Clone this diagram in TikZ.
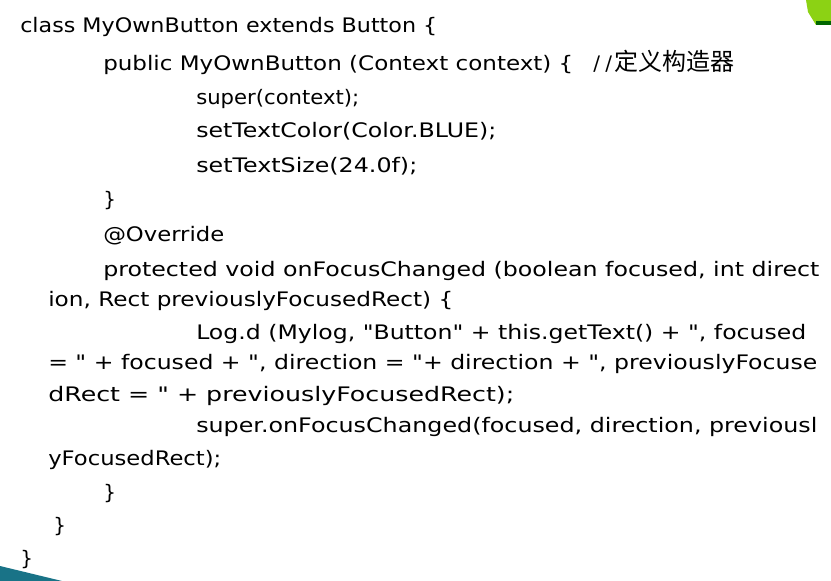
\documentclass[tikz,border=0pt]{standalone}
\usepackage{graphicx}
\usepackage{fontspec}
\setmainfont{DejaVu Sans}[Ligatures=TeXOff]
\newfontfamily\cjk{Noto Sans CJK SC}
\newlength\pxu
\setlength\pxu{0.75pt}
% stretch one code line to the width it has on the slide
\newcommand\fitw[2]{\resizebox{#1\pxu}{\height}{#2}}
\definecolor{leafgreen}{RGB}{140,210,20}
\definecolor{slideteal}{RGB}{25,115,135}

\begin{document}
\begin{tikzpicture}
[
x=0.75pt,y=-0.75pt,
codeline/.style={anchor=base west,inner sep=0pt,
font=\fontsize{15}{18}\selectfont}
]
\useasboundingbox[fill=white] (0,0) rectangle (831,581);
% corner marks of the slide
\fill[leafgreen] (806,0) -- (831,0) -- (831,25) -- (816,25) -- (808,12) -- cycle;
\fill[green!40!black] (816,21) rectangle (831,25);
\fill[slideteal] (0,566) -- (62,581) -- (0,581) -- cycle;
% the code
\node[codeline] (l1) at (20,33){\fitw{417}{class MyOwnButton extends Button \{}};
\node[codeline] (l2) at (103,71){\fitw{470}{public MyOwnButton (Context context) \{}};
\node[codeline] (l2c) at (593,71){/\hspace{4pt}/\hspace{2pt}{\cjk\fontsize{18}{18}\selectfont 定义构造器}};
\node[codeline] (l3) at (196,105){\fitw{163}{super(context);}};
\node[codeline] (l4) at (196,138){\fitw{300}{setTextColor(Color.BLUE);}};
\node[codeline] (l5) at (196,172){\fitw{221}{setTextSize(24.0f);}};
\node[codeline] (l6) at (103,206){\}};
\node[codeline] (l7) at (103,241){\fitw{121}{@Override}};
\node[codeline] (l8) at (103,276){\fitw{716}{protected void onFocusChanged (boolean focused, int direct}};
\node[codeline] (l9) at (48,306){\fitw{405}{ion, Rect previouslyFocusedRect) \{}};
\node[codeline] (l10) at (196,339){\fitw{610}{Log.d (Mylog, "Button" + this.getText() + ", focused}};
\node[codeline] (l11) at (48,369){\fitw{769}{= " + focused + ", direction = "+ direction + ", previouslyFocuse}};
\node[codeline] (l12) at (48,401){\fitw{466}{dRect = " + previouslyFocusedRect);}};
\node[codeline] (l13) at (196,432){\fitw{621}{super.onFocusChanged(focused, direction, previousl}};
\node[codeline] (l14) at (48,465){\fitw{173}{yFocusedRect);}};
\node[codeline] (l15) at (103,499){\}};
\node[codeline] (l16) at (53,532){\}};
\node[codeline] (l17) at (20,565){\}};
\end{tikzpicture}
\end{document}
